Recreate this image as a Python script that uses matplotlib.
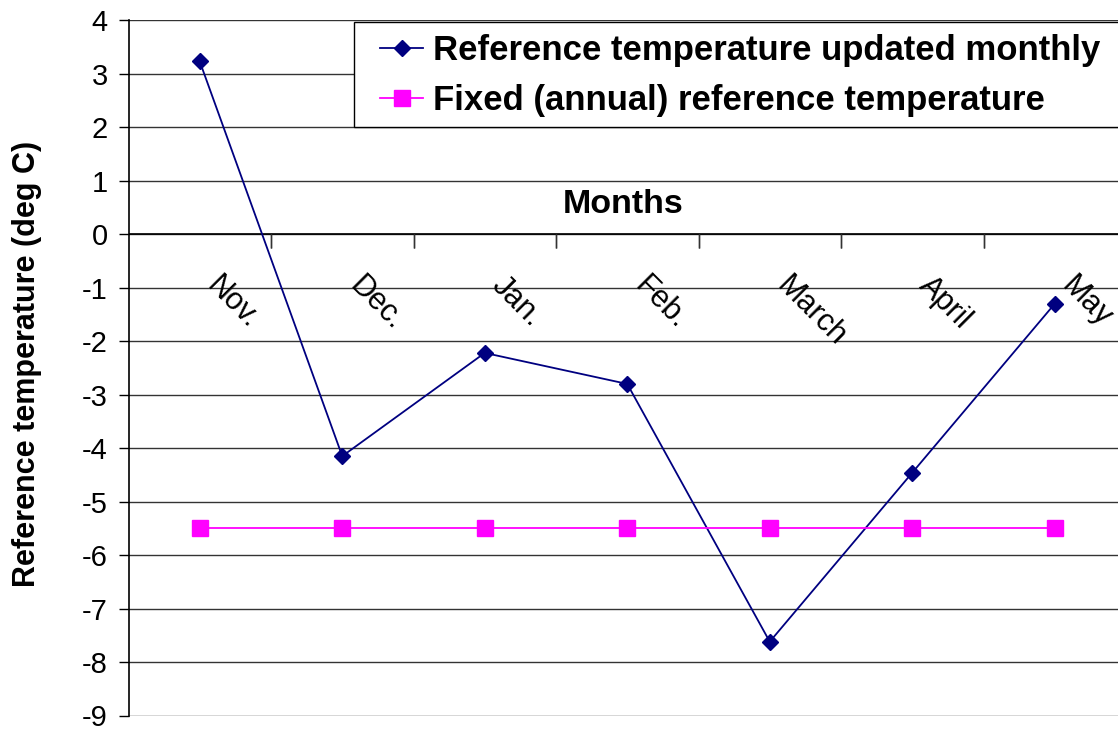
import matplotlib.pyplot as plt
from matplotlib.patches import Rectangle

months = ['Nov.', 'Dec.', 'Jan.', 'Feb.', 'March', 'April', 'May']
updated_monthly = [3.23, -4.15, -2.22, -2.80, -7.62, -4.46, -1.30]
fixed_annual = [-5.5, -5.5, -5.5, -5.5, -5.5, -5.5, -5.5]

plt.rcParams['font.family'] = ['Liberation Sans', 'DejaVu Sans']
plt.rcParams['axes.unicode_minus'] = False

W, H = 1118, 729
fig = plt.figure(figsize=(W / 100, H / 100), dpi=100)
ax = fig.add_axes([128.5 / W, 1 - 715.5 / H, 997.5 / W, 695.2 / H])

x = list(range(len(months)))
ax.plot(x, updated_monthly, color='#000080', lw=1.3, marker='D', ms=8.5,
        label='Reference temperature updated monthly', zorder=4)
ax.plot(x, fixed_annual, color='#ff00ff', lw=1.3, marker='s', ms=12,
        label='Fixed (annual) reference temperature', zorder=4)

ax.set_xlim(-0.5, len(months) - 0.5)
ax.set_ylim(-9, 4)
ax.set_yticks(range(-9, 5))
ax.tick_params(axis='y', labelsize=21, length=7, width=1, direction='out', pad=8)
ax.yaxis.grid(True, color='#333333', lw=1)
ax.set_axisbelow(True)

for s in ['top', 'right', 'bottom']:
    ax.spines[s].set_visible(False)
ax.spines['left'].set_linewidth(1.2)

# category axis crossing at y = 0
ax.set_xticks([])
ax.axhline(0, color='black', lw=1.2, zorder=2)
for b in range(1, len(months)):
    ax.plot([b - 0.5, b - 0.5], [0, 0], marker=3, ms=10, mew=1, color='#333333',
            zorder=2)
for i, m in enumerate(months):
    ax.annotate(m, xy=(i, 0), xytext=(16, -26), textcoords='offset points',
                rotation=-45, rotation_mode='anchor', ha='left', va='top',
                fontsize=22)

ax.text(2.97, 0.55, 'Months', ha='center', va='center', fontsize=24.5,
        fontweight='bold')
fig.text(27 / W, 1 - 364 / H, 'Reference temperature (deg C)', rotation=90,
         ha='center', va='center', fontsize=22, fontweight='bold')

# legend box, cut by the right edge like the original
fig.patches.append(Rectangle((354 / W, 1 - 126.7 / H), 800 / W, 105 / H,
                             transform=fig.transFigure, facecolor='white',
                             edgecolor='black', lw=1, zorder=4))
leg = fig.legend(loc='upper left', bbox_to_anchor=(380 / W, 1 - 34 / H),
                 prop={'weight': 'bold', 'size': 25}, frameon=False,
                 handlelength=1.24, handletextpad=0.29, labelspacing=0.5,
                 borderpad=0, borderaxespad=0)
leg.set_zorder(5)

fig.savefig('out.png', dpi=100)
